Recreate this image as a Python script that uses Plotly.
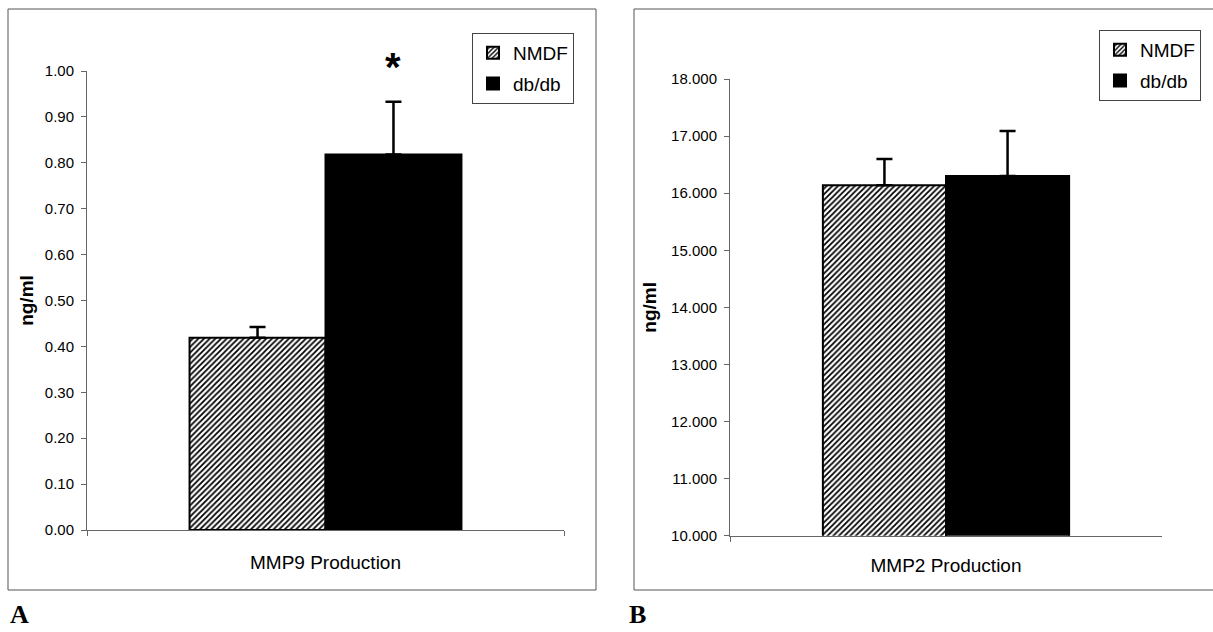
import plotly.graph_objects as go

# ---- data ----
groups = ["NMDF", "db/db"]
mmp9_category = ["MMP9 Production"]
mmp9_means = [0.419, 0.818]
mmp9_errs = [0.023, 0.115]
mmp2_category = ["MMP2 Production"]
mmp2_means = [16.14, 16.30]
mmp2_errs = [0.46, 0.79]
mmp9_ticks = [0.0, 0.1, 0.2, 0.3, 0.4, 0.5, 0.6, 0.7, 0.8, 0.9, 1.0]
mmp2_ticks = [10, 11, 12, 13, 14, 15, 16, 17, 18]
panel_letters = ["A", "B"]

W, H = 1213, 632
BARGAP = 0.43
FONT = "Liberation Sans, Arial, sans-serif"
AXC = "#666666"
MMP9_RANGE = [0, 1.0]
MMP2_RANGE = [10, 18]

def px_x(p):
    return p / W

def px_y(p):
    return 1 - p / H

styles = [
    dict(marker=dict(color="white", line=dict(color="black", width=2),
                     pattern=dict(shape="/", fgcolor="black", bgcolor="white",
                                  size=4, solidity=0.45, fillmode="replace"))),
    dict(marker=dict(color="black", line=dict(color="black", width=2))),
]

fig = go.Figure()

L9 = (87, 564)
L2 = (730, 1162)
panels = [
    (mmp9_category, mmp9_means, mmp9_errs, "x", "y", "legend"),
    (mmp2_category, mmp2_means, mmp2_errs, "x2", "y2", "legend2"),
]
for cats, means, errs, xa, ya, leg in panels:
    for i, g in enumerate(groups):
        fig.add_trace(go.Bar(
            x=cats, y=[means[i]], name=g, xaxis=xa, yaxis=ya, legend=leg,
            legendgroup=g + leg,
            error_y=dict(type="data", symmetric=False, array=[errs[i]],
                         arrayminus=[0], color="black", thickness=2.5, width=8),
            **styles[i],
        ))

# significance asterisk above db/db MMP9 (centre of second bar within group)
offset = (1 - BARGAP) / 4
star_val = mmp9_means[1] + mmp9_errs[1] + 0.075
fig.add_annotation(x=0.5 + offset,
                   y=(star_val - MMP9_RANGE[0]) / (MMP9_RANGE[1] - MMP9_RANGE[0]),
                   xref="x domain", yref="y domain", text="<b>*</b>", showarrow=False,
                   font=dict(family=FONT, size=40, color="black"),
                   xanchor="center", yanchor="middle")

common_x = dict(type="category", showline=True, linecolor=AXC, linewidth=1,
                ticks="outside", tickson="boundaries", ticklen=5, tickcolor=AXC,
                tickfont=dict(family=FONT, size=19, color="black"),
                showgrid=False, zeroline=False, fixedrange=True)
common_y = dict(showline=True, linecolor=AXC, linewidth=1, ticks="outside",
                ticklen=5, tickcolor=AXC, showgrid=False, zeroline=False,
                tickfont=dict(family=FONT, size=15, color="black"),
                ticklabelstandoff=4)
ytitle = dict(text="<b>ng/ml</b>", font=dict(family=FONT, size=19, color="black"))

leg_common = dict(xanchor="right", yanchor="top",
                  bordercolor="#444", borderwidth=1, bgcolor="white",
                  font=dict(family=FONT, size=19, color="black"),
                  traceorder="grouped", tracegroupgap=3, itemwidth=30)

fig.update_layout(
    width=W, height=H, margin=dict(l=0, r=0, t=0, b=0, autoexpand=False),
    paper_bgcolor="white", plot_bgcolor="white",
    bargap=BARGAP, bargroupgap=0, barmode="group",
    xaxis=dict(domain=[px_x(L9[0]), px_x(L9[1])], anchor="y",
               ticklabelstandoff=15, **common_x),
    yaxis=dict(domain=[px_y(530), px_y(71)], anchor="x", range=MMP9_RANGE,
               tickvals=mmp9_ticks, tickformat=".2f",
               title=dict(standoff=6, **ytitle), **common_y),
    xaxis2=dict(domain=[px_x(L2[0]), px_x(L2[1])], anchor="y2",
                ticklabelstandoff=12, **common_x),
    yaxis2=dict(domain=[px_y(535.7), px_y(79)], anchor="x2", range=MMP2_RANGE,
                tickvals=mmp2_ticks, tickformat=".3f",
                title=dict(standoff=9, **ytitle), **common_y),
    legend=dict(x=px_x(574), y=px_y(33), **leg_common),
    legend2=dict(x=px_x(1201), y=px_y(30), **leg_common),
    showlegend=True,
)

# panel frames
for x0, x1 in [(8, 596), (634, 1225)]:
    fig.add_shape(type="rect", xref="paper", yref="paper",
                  x0=px_x(x0), x1=px_x(x1), y0=px_y(590), y1=px_y(9),
                  line=dict(color="#555", width=1), layer="below")

# panel letters
for letter, xp in zip(panel_letters, [8, 627]):
    fig.add_annotation(x=px_x(xp), y=px_y(614), xref="paper", yref="paper",
                       xanchor="left", yanchor="middle", showarrow=False,
                       text="<b>%s</b>" % letter,
                       font=dict(family="Liberation Serif, Times New Roman, serif",
                                 size=26, color="black"))

fig.write_html("out.html", config={"displayModeBar": False},
               post_script="document.body.style.margin='0';")
